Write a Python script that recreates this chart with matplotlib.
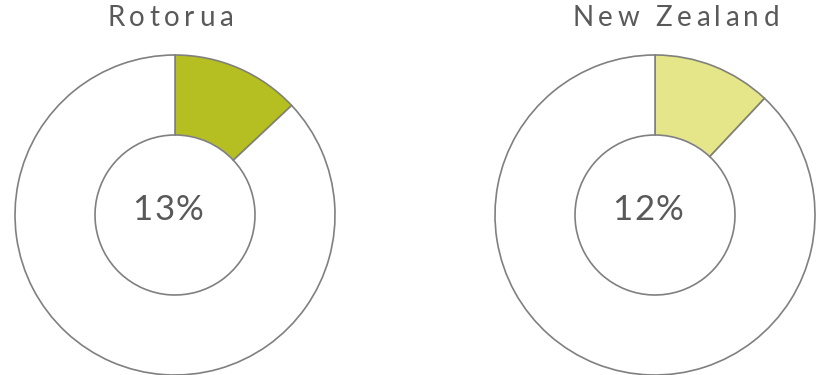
"""
Two donut charts comparing a share for Rotorua and New Zealand.
"""

import matplotlib
matplotlib.use("Agg")
import matplotlib.pyplot as plt

# data
regions = ["Rotorua", "New Zealand"]
shares = [13, 12]
colors = ["#B5BF22", "#E5E68A"]

FONT = "Lato"
TEXT_COLOR = "#595959"
EDGE_COLOR = "#808080"

W, H = 820, 375


def spaced_text(fig, x, y, s, size, gap):
    """Draw text centred at pixel (x, y from top) with extra letter spacing."""
    renderer = fig.canvas.get_renderer()
    widths = []
    for ch in s:
        t = fig.text(0, 0, ch, fontsize=size, family=FONT)
        widths.append(t.get_window_extent(renderer).width)
        t.remove()
    total = sum(widths) + gap * (len(s) - 1)
    cur = x - total / 2
    for ch, w in zip(s, widths):
        fig.text(cur / W, 1 - y / H, ch, fontsize=size, family=FONT,
                 color=TEXT_COLOR, ha="left", va="center")
        cur += w + gap


fig = plt.figure(figsize=(W / 100, H / 100), dpi=100)

centers_x = [175, 655]
title_x = [170, 676]
cy = 215
r_out = 160

for name, share, color, cx, tx in zip(regions, shares, colors, centers_x, title_x):
    ax = fig.add_axes([(cx - r_out) / W, (H - cy - r_out) / H,
                       2 * r_out / W, 2 * r_out / H])
    ax.pie([share, 100 - share], colors=[color, "white"], startangle=90,
           counterclock=False, radius=1.0,
           wedgeprops=dict(width=0.5, edgecolor=EDGE_COLOR, linewidth=1.2))
    ax.set_xlim(-1.0, 1.0)
    ax.set_ylim(-1.0, 1.0)
    ax.set_aspect("equal")
    ax.axis("off")
    for p in ax.patches:
        p.set_clip_on(False)

    spaced_text(fig, tx, 18, name, 20, 4.5)
    spaced_text(fig, cx - 7, 210, f"{share}%", 25, 1.5)

fig.savefig("out.png", dpi=100)
